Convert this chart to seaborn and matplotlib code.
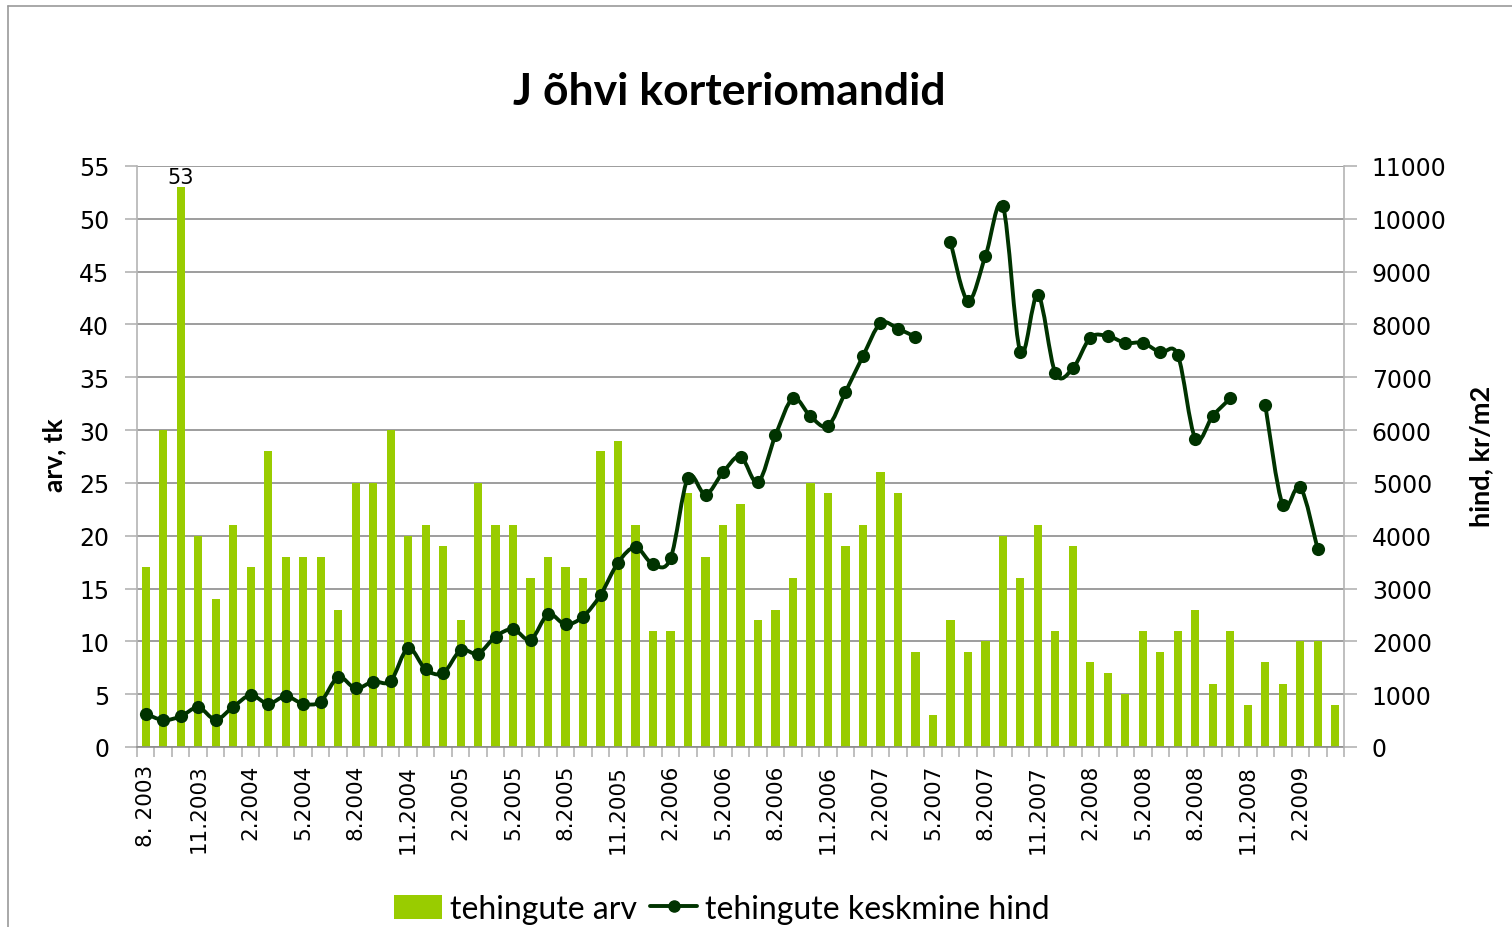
import numpy as np
import pandas as pd
import matplotlib
matplotlib.use("Agg")
import matplotlib.pyplot as plt
import seaborn as sns
from matplotlib.patches import Patch, PathPatch
from matplotlib.lines import Line2D
from matplotlib.path import Path

# ---------------- data ----------------
years_months = [(2003, m) for m in range(8, 13)] + \
               [(y, m) for y in range(2004, 2009) for m in range(1, 13)] + \
               [(2009, m) for m in range(1, 5)]
months = [f"{m}.{y}" for (y, m) in years_months]

counts = [17, 30, 53, 20, 14, 21, 17, 28, 18, 18, 18, 13, 25, 25, 30, 20, 21, 19,
          12, 25, 21, 21, 16, 18, 17, 16, 28, 29, 21, 11, 11, 24, 18, 21, 23, 12,
          13, 16, 25, 24, 19, 21, 26, 24, 9, 3, 12, 9, 10, 20, 16, 21, 11, 19, 8,
          7, 5, 11, 9, 11, 13, 6, 11, 4, 8, 6, 10, 10, 4]

prices = [630, 510, 580, 750, 520, 760, 980, 820, 960, 820, 860, 1320, 1110, 1240,
          1250, 1870, 1470, 1400, 1830, 1770, 2090, 2230, 2030, 2510, 2320, 2470,
          2880, 3490, 3780, 3460, 3570, 5100, 4780, 5200, 5500, 5010, 5900, 6600,
          6260, 6080, 6720, 7400, 8020, 7920, 7760, None, 9570, 8450, 9290, 10240,
          7480, 8560, 7080, 7170, 7750, 7780, 7650, 7650, 7470, 7420, 5840, 6270,
          6600, None, 6470, 4580, 4920, 3740, None]

tick_labels = ["8. 2003", "11.2003", "2.2004", "5.2004", "8.2004", "11.2004",
               "2.2005", "5.2005", "8.2005", "11.2005", "2.2006", "5.2006",
               "8.2006", "11.2006", "2.2007", "5.2007", "8.2007", "11.2007",
               "2.2008", "5.2008", "8.2008", "11.2008", "2.2009"]

title = "J õhvi korteriomandid"
left_label = "arv, tk"
right_label = "hind, kr/m2"
bar_name = "tehingute arv"
line_name = "tehingute keskmine hind"

BAR_C = "#99CC00"
LINE_C = "#003300"
GRID_C = "#8c8c8c"
AX_C = "#b4b4b4"

# ---------------- figure ----------------
sns.set_style("white")
plt.rcParams['font.family'] = ['DejaVu Sans']
plt.rcParams['text.color'] = 'black'
plt.rcParams['xtick.color'] = 'black'
plt.rcParams['ytick.color'] = 'black'
plt.rcParams['axes.labelcolor'] = 'black'

W, H = 1512, 928
fig = plt.figure(figsize=(W / 100, H / 100), dpi=100)
L, R, T, B = 137, 1344, 167, 748
ax = fig.add_axes([L / W, 1 - B / H, (R - L) / W, (B - T) / H])

df = pd.DataFrame({"month": months, "count": counts})
sns.barplot(data=df, x="month", y="count", color=BAR_C, saturation=1,
            width=0.47, linewidth=0, edgecolor='none', ax=ax, zorder=2)
ax.set_xlim(-0.5, len(months) - 0.5)
ax.set_ylim(0, 55)
ax.set_yticks(np.arange(0, 56, 5))
ax.set_axisbelow(True)
ax.grid(axis='y', color=GRID_C, lw=1.2)
ax.grid(axis='x', visible=False)
ax.set_xlabel("")
ax.set_ylabel("")

ax.set_xticks(np.arange(0, len(months), 3))
ax.set_xticklabels(tick_labels, rotation=90, fontsize=15.5)
ax.set_xticks(np.arange(-0.5, len(months), 1), minor=True)
ax.tick_params(axis='x', which='major', length=0, pad=12, labelcolor='black')
ax.tick_params(axis='x', which='minor', length=7, width=1.2, color=AX_C, bottom=True)
ax.tick_params(axis='y', which='major', length=9, width=1.2, color=AX_C, labelsize=17,
               pad=11, left=True, labelcolor='black')

for s in ['top', 'right']:
    ax.spines[s].set_visible(False)
ax.spines['left'].set_color(AX_C)
ax.spines['bottom'].set_color(GRID_C)
ax.spines['left'].set_linewidth(1.2)
ax.spines['bottom'].set_linewidth(1.2)

ax.text(2, 53, "53", ha='center', va='bottom', fontsize=15, color='black')

# ---------------- line (right axis) ----------------
ax2 = ax.twinx()
ax2.set_ylim(0, 11000)
ax2.set_yticks(np.arange(0, 11001, 1000))
ax2.tick_params(axis='y', length=9, width=1.2, color=AX_C, labelsize=17, pad=11, right=True,
                labelcolor='black')
for s in ['top', 'left', 'bottom']:
    ax2.spines[s].set_visible(False)
ax2.spines['right'].set_color(AX_C)
ax2.spines['right'].set_linewidth(1.2)
ax2.grid(False)

xs_all = np.arange(len(months), dtype=float)
ys_all = np.array([np.nan if v is None else v for v in prices], dtype=float)

# split into contiguous segments and draw smoothed (Excel-like) curve
segs = []
cur = []
for x, y in zip(xs_all, ys_all):
    if np.isnan(y):
        if cur:
            segs.append(cur)
        cur = []
    else:
        cur.append((x, y))
if cur:
    segs.append(cur)

for seg in segs:
    xs = [p[0] for p in seg]
    ys = [p[1] for p in seg]
    n = len(xs)
    verts = [(xs[0], ys[0])]
    codes = [Path.MOVETO]
    for i in range(n - 1):
        p0 = i - 1 if i > 0 else i
        p3 = i + 2 if i + 2 < n else i + 1
        c1 = (xs[i] + (xs[i + 1] - xs[p0]) / 6, ys[i] + (ys[i + 1] - ys[p0]) / 6)
        c2 = (xs[i + 1] - (xs[p3] - xs[i]) / 6, ys[i + 1] - (ys[p3] - ys[i]) / 6)
        verts += [c1, c2, (xs[i + 1], ys[i + 1])]
        codes += [Path.CURVE4] * 3
    ax2.add_patch(PathPatch(Path(verts, codes), facecolor='none', edgecolor=LINE_C,
                            lw=2.8, capstyle='round', joinstyle='round', zorder=3))

pdf = pd.DataFrame({"x": xs_all, "price": ys_all}).dropna()
sns.scatterplot(data=pdf, x="x", y="price", color=LINE_C, s=90, linewidth=0,
                ax=ax2, zorder=4, legend=False)
ax2.set_xlim(-0.5, len(months) - 0.5)
ax2.set_ylim(0, 11000)
ax2.set_xlabel("")
ax2.set_ylabel("")

# ---------------- texts ----------------
fig.text(729 / W, 1 - 92 / H, title, ha='center', va='center', fontsize=32,
         fontweight='bold', family=['Lato', 'DejaVu Sans'], color='black')
fig.text(54 / W, 1 - 455 / H, left_label, ha='center', va='center', rotation=90,
         fontsize=19, fontweight='bold', family=['Lato', 'DejaVu Sans'], color='black')
fig.text(1481 / W, 1 - 456 / H, right_label, ha='center', va='center', rotation=90,
         fontsize=19.5, fontweight='bold', family=['Lato', 'DejaVu Sans'], color='black')

handles = [Patch(facecolor=BAR_C, edgecolor='none'),
           Line2D([0], [0], color=LINE_C, lw=2.8, marker='o', markersize=8)]
leg = fig.legend(handles, [bar_name, line_name], loc='center', ncol=2,
                 bbox_to_anchor=(722 / W, 1 - 910 / H), frameon=False,
                 prop={'family': ['Lato', 'DejaVu Sans'], 'size': 23},
                 handlelength=1.5, handleheight=0.8, handletextpad=0.25,
                 columnspacing=0.4, labelcolor='black')

# border (top and left only visible)
fig.add_artist(Line2D([8 / W, 8 / W], [0, 1 - 7 / H], color='#999999', lw=1.2,
                      transform=fig.transFigure))
fig.add_artist(Line2D([8 / W, 1], [1 - 7 / H, 1 - 7 / H], color='#999999', lw=1.2,
                      transform=fig.transFigure))

fig.savefig("out.png", dpi=100)
